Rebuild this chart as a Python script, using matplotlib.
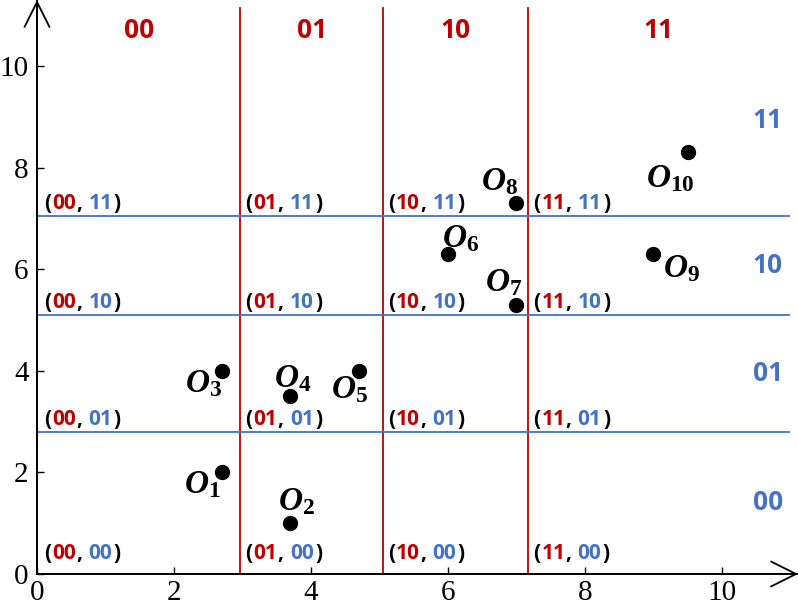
import matplotlib
matplotlib.use("Agg")
import matplotlib.pyplot as plt

# data
codes = ["00", "01", "10", "11"]
col_bounds = [2.97, 5.05, 7.17]      # red vertical split lines (x)
row_bounds = [2.80, 5.09, 7.05]      # blue horizontal split lines (y)
pts_x = [2.7, 3.7, 2.7, 3.7, 4.7, 6.0, 7.0, 7.0, 9.0, 9.5]
pts_y = [2.0, 1.0, 4.0, 3.5, 4.0, 6.3, 5.3, 7.3, 6.3, 8.3]
pt_names = ["1", "2", "3", "4", "5", "6", "7", "8", "9", "10"]
# label offsets from each point (pixels)
lbl_dx = [-20, 6, -18, 2, -9, 13, -13, -17, 28, -17]
lbl_dy = [-11, 23, -12, 19, -18, 16, 23, 22, -14, -25]

RED = "#C00000"
BLUE = "#4472C4"
SANS = "Open Sans"

plt.rcParams["mathtext.fontset"] = "custom"
plt.rcParams["mathtext.it"] = "Liberation Serif:bold:italic"
plt.rcParams["mathtext.rm"] = "Liberation Serif:bold"
plt.rcParams["mathtext.bf"] = "Liberation Serif:bold"

fig = plt.figure(figsize=(7.98, 6.06), dpi=100)
ax = fig.add_axes([37 / 798, 32 / 606, 761 / 798, 574 / 606])
xmax, ymax = 11.11, 11.3
ax.set_xlim(0, xmax)
ax.set_ylim(0, ymax)

for s in ["top", "right"]:
    ax.spines[s].set_visible(False)
for s in ["left", "bottom"]:
    ax.spines[s].set_linewidth(1.3)

ax.set_xticks([0, 2, 4, 6, 8, 10])
ax.set_yticks([0, 2, 4, 6, 8, 10])
ax.tick_params(direction="in", length=5, width=1, labelsize=21)
ax.tick_params(axis="x", pad=4)
ax.tick_params(axis="y", pad=6)
for lab in ax.get_xticklabels() + ax.get_yticklabels():
    lab.set_fontfamily("Liberation Serif")

# axis arrows
for end in [(xmax, 0), (0, ymax)]:
    ax.annotate("", xy=end, xytext=(0, 0), xycoords="data",
                arrowprops=dict(arrowstyle="->,head_length=0.9,head_width=0.45",
                                lw=1.3, color="black", mutation_scale=20,
                                shrinkA=0, shrinkB=0), annotation_clip=False)

# grid split lines
for xb in col_bounds:
    ax.plot([xb, xb], [0, 11.14], color=RED, lw=1.3, zorder=1)
for yb in row_bounds:
    ax.plot([0, 10.98], [yb, yb], color=BLUE, lw=1.3, zorder=1)

# column / row codes
col_edges = [0] + col_bounds + [10.98]
row_edges = [0] + row_bounds + [10.8]
for i, c in enumerate(codes):
    ax.text((col_edges[i] + col_edges[i + 1]) / 2, 10.7, c, color=RED,
            fontsize=19, fontweight="bold", family=SANS,
            ha="center", va="center")
    ax.text(10.67, (row_edges[i] + row_edges[i + 1]) / 2, c, color=BLUE,
            fontsize=19, fontweight="bold", family=SANS,
            ha="center", va="center")


def pair_label(x, y, a, b):
    kw = dict(fontsize=15, fontweight="bold", family=SANS)
    t = ax.text(x, y, "(", color="black", va="baseline", **kw)
    parts = [(a, RED, 1), (",", "black", 0), (b, BLUE, 4.5), (")", "black", 1)]
    for s, col, gap in parts:
        t = ax.annotate(s, xy=(1, 0), xycoords=t, xytext=(gap, 0),
                        textcoords="offset points", va="bottom",
                        color=col, **kw)


col_start = [0.1] + [b + 0.07 for b in col_bounds]
row_base = [0.3] + [b + 0.14 for b in row_bounds]
for i, a in enumerate(codes):
    for j, b in enumerate(codes):
        pair_label(col_start[i], row_base[j], a, b)

# points
ax.scatter(pts_x, pts_y, s=100, color="black", zorder=3)
for x, y, n, dx, dy in zip(pts_x, pts_y, pt_names, lbl_dx, lbl_dy):
    ax.annotate(r"$O_{\mathrm{%s}}$" % n, xy=(x, y), xytext=(dx, dy),
                textcoords="offset pixels", ha="center", va="center",
                fontsize=24, color="black")

fig.savefig("out.png", dpi=100)
